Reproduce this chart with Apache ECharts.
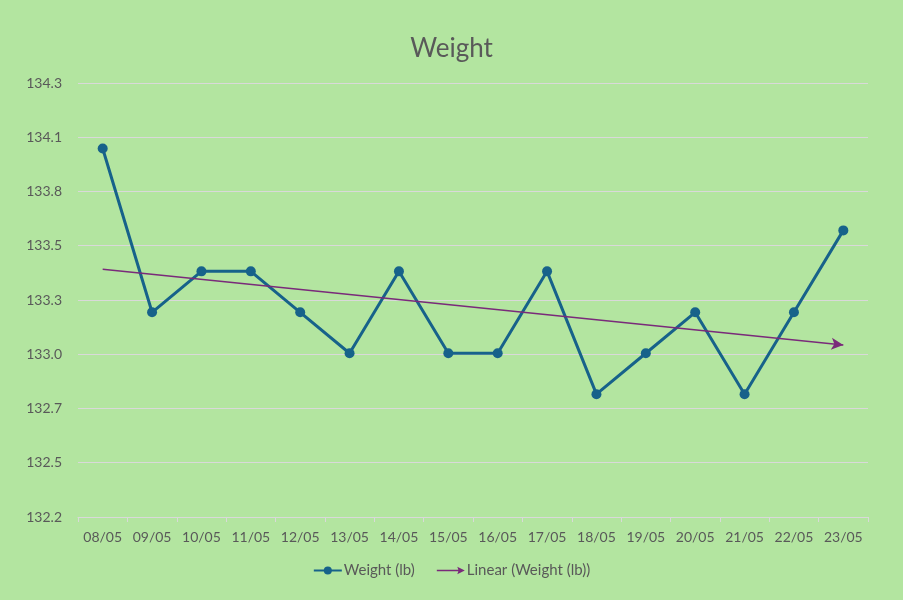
<!DOCTYPE html>
<html>
<head>
<meta charset="utf-8">
<script src="https://cdn.jsdelivr.net/npm/echarts@6/dist/echarts.min.js"></script>
<style>
html,body{margin:0;padding:0;background:#B3E5A0;}
#chart{width:903px;height:600px;}
</style>
</head>
<body>
<div id="chart"></div>
<script>
const categories = ['08/05','09/05','10/05','11/05','12/05','13/05','14/05','15/05','16/05','17/05','18/05','19/05','20/05','21/05','22/05','23/05'];
const weightValues = [134.0,133.2,133.4,133.4,133.2,133.0,133.4,133.0,133.0,133.4,132.8,133.0,133.2,132.8,133.2,133.6];
const trendValues = [133.41, 133.04];
const yMin = 132.2;
const yInterval = 0.265;
const yMax = 134.32;

const chart = echarts.init(document.getElementById('chart'), null, {renderer:'canvas'});
const txt = '#595959';
const font = 'Lato, "Open Sans", sans-serif';
chart.setOption({
  backgroundColor: '#B3E5A0',
  animation: false,
  title: {
    text: 'Weight', left: 'center', top: 31,
    textStyle: {fontFamily: font, fontSize: 26, fontWeight: 'normal', color: txt}
  },
  legend: {
    bottom: 17, left: 'center', itemGap: 22, itemWidth: 28, itemHeight: 10,
    textStyle: {fontFamily: font, fontSize: 15, color: txt, padding: [0, 0, 0, -3]},
    data: [
      {name: 'Weight (lb)'},
      {name: 'Linear (Weight (lb))', itemWidth: 26, icon: 'path://M0,4.4 L20,4.4 L19,1.5 L26,5 L19,8.5 L20,5.6 L0,5.6 Z'}
    ]
  },
  grid: {left: 78, right: 35, top: 83, bottom: 83, containLabel: false},
  xAxis: {
    type: 'category', data: categories, boundaryGap: true,
    axisLine: {lineStyle: {color: '#D9D9D9', width: 1}},
    axisTick: {show: true, length: 5, interval: 0, lineStyle: {color: '#D9D9D9'}},
    axisLabel: {interval: 0, margin: 13, fontFamily: font, fontSize: 14, color: txt}
  },
  yAxis: {
    type: 'value', min: yMin, max: yMax, interval: yInterval,
    axisLine: {show: false}, axisTick: {show: false},
    axisLabel: {margin: 16, fontFamily: font, fontSize: 14, color: txt,
      formatter: v => Number(v).toFixed(1)},
    splitLine: {lineStyle: {color: '#D9D9D9', width: 1}}
  },
  series: [
    {
      name: 'Weight (lb)', type: 'line', data: weightValues,
      symbol: 'circle', symbolSize: 10,
      lineStyle: {color: '#17628A', width: 3},
      itemStyle: {color: '#17628A'},
      emphasis: {disabled: true}
    },
    {
      name: 'Linear (Weight (lb))', type: 'line', data: [],
      lineStyle: {color: '#7A2A7A', width: 1.5},
      itemStyle: {color: '#7A2A7A'},
      markLine: {
        silent: true, animation: false,
        symbol: ['none', 'arrow'], symbolSize: [9, 12],
        label: {show: false},
        lineStyle: {color: '#7A2A7A', width: 1.5, type: 'solid'},
        data: [[
          {coord: [categories[0], trendValues[0]]},
          {coord: [categories[categories.length - 1], trendValues[1]]}
        ]]
      }
    }
  ]
});
</script>
</body>
</html>
